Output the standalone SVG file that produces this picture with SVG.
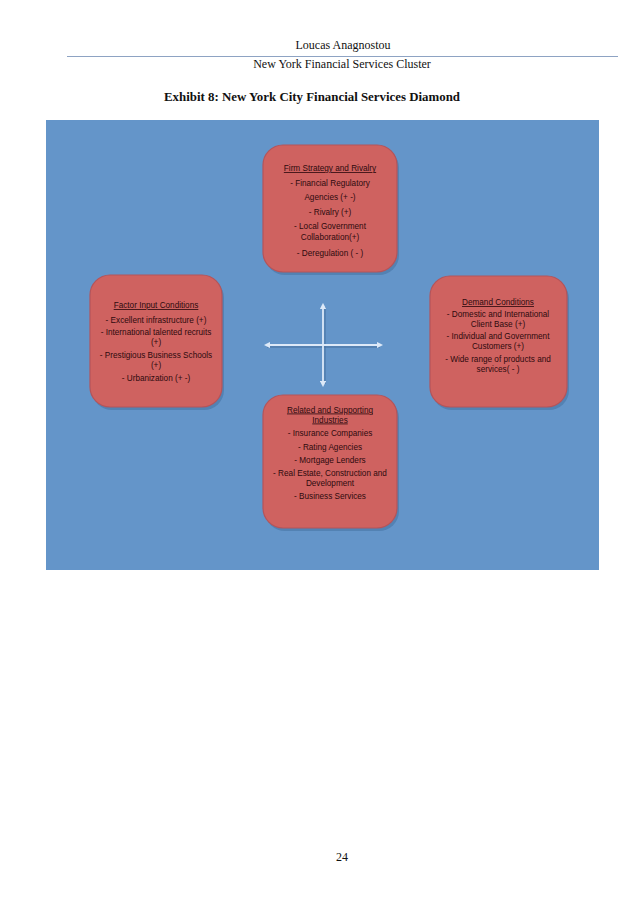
<svg xmlns="http://www.w3.org/2000/svg" width="638" height="904" viewBox="0 0 638 904">
<style>
.hdr{font-family:"Liberation Serif",serif;font-size:12px;fill:#111;text-anchor:middle}
.ttl{font-family:"Liberation Serif",serif;font-size:12px;font-weight:bold;fill:#111}
.box{fill:#cf6260;stroke:#b4545a;stroke-width:1.2}
.sh{fill:#3e6a9a;opacity:0.45}
.t{font-family:"Liberation Sans",Arial,sans-serif;font-size:8.2px;fill:#2e0a0e;text-anchor:middle}
.u{text-decoration:underline}
.ln{stroke:#dde9f8;stroke-width:1.8;fill:none}
.lns{stroke:#4a74a4;stroke-width:1.8;fill:none;opacity:0.6}
</style>
<defs>
<marker id="ah" viewBox="0 0 6 6" refX="3" refY="3" markerWidth="3.5" markerHeight="3.5" orient="auto-start-reverse">
<path d="M0,0 L6,3 L0,6 z" fill="#dde9f8"/>
</marker>
</defs>
<rect width="638" height="904" fill="#ffffff"/>
<g id="header">
<text class="hdr" x="343" y="49">Loucas Anagnostou</text>
<line x1="67" y1="56.5" x2="618" y2="56.5" stroke="#8ea3c3" stroke-width="1"/>
<text class="hdr" x="342" y="68">New York Financial Services Cluster</text>
<text class="ttl" x="164" y="101" textLength="296" lengthAdjust="spacingAndGlyphs">Exhibit  8: New York  City Financial  Services Diamond</text>
</g>
<rect id="panel" x="46" y="120" width="553" height="450" fill="#6495c9"/>
<g id="connectors">
<line class="lns" x1="267" y1="347" x2="380" y2="347"/>
<line class="lns" x1="325" y1="307" x2="325" y2="384"/>
<line class="ln" x1="267" y1="345" x2="380" y2="345" marker-start="url(#ah)" marker-end="url(#ah)"/>
<line class="ln" x1="323" y1="306" x2="323" y2="384" marker-start="url(#ah)" marker-end="url(#ah)"/>
</g>
<g id="firm-strategy">
<rect class="sh" x="265" y="148" width="134" height="127" rx="20"/>
<rect class="box" x="263" y="145" width="134" height="127" rx="20"/>
<text class="t u" x="330" y="171">Firm Strategy and Rivalry</text>
<text class="t" x="330" y="186">- Financial Regulatory</text>
<text class="t" x="330" y="200">Agencies (+ -)</text>
<text class="t" x="330" y="215">- Rivalry (+)</text>
<text class="t" x="330" y="229">- Local Government</text>
<text class="t" x="330" y="240">Collaboration(+)</text>
<text class="t" x="330" y="256">- Deregulation ( - )</text>
</g>
<g id="factor-input">
<rect class="sh" x="92" y="278" width="132" height="132" rx="20"/>
<rect class="box" x="90" y="275" width="132" height="132" rx="20"/>
<text class="t u" x="156" y="308">Factor Input Conditions</text>
<text class="t" x="156" y="322.5">- Excellent infrastructure (+)</text>
<text class="t" x="156" y="335">- International talented recruits</text>
<text class="t" x="156" y="345">(+)</text>
<text class="t" x="156" y="357.5">- Prestigious Business Schools</text>
<text class="t" x="156" y="367.5">(+)</text>
<text class="t" x="156" y="381">- Urbanization (+ -)</text>
</g>
<g id="demand">
<rect class="sh" x="432" y="279" width="137" height="131" rx="20"/>
<rect class="box" x="430" y="276" width="137" height="131" rx="20"/>
<text class="t u" x="498" y="305">Demand Conditions</text>
<text class="t" x="498" y="316.5">- Domestic and International</text>
<text class="t" x="498" y="326.5">Client Base (+)</text>
<text class="t" x="498" y="338.5">- Individual and Government</text>
<text class="t" x="498" y="348.5">Customers (+)</text>
<text class="t" x="498" y="362">- Wide range of products and</text>
<text class="t" x="498" y="372">services( - )</text>
</g>
<g id="related-supporting">
<rect class="sh" x="265" y="398" width="134" height="133" rx="20"/>
<rect class="box" x="263" y="395" width="134" height="133" rx="20"/>
<text class="t u" x="330" y="412.5">Related and Supporting</text>
<text class="t u" x="330" y="422.5">Industries</text>
<text class="t" x="330" y="436">- Insurance Companies</text>
<text class="t" x="330" y="450">- Rating Agencies</text>
<text class="t" x="330" y="463">- Mortgage Lenders</text>
<text class="t" x="330" y="476">- Real Estate, Construction and</text>
<text class="t" x="330" y="486">Development</text>
<text class="t" x="330" y="499">- Business Services</text>
</g>
<text class="hdr" x="342" y="861">24</text>
</svg>
